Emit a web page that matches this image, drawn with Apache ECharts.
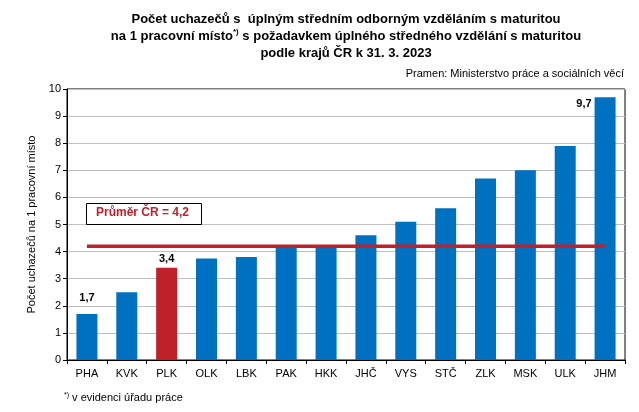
<!DOCTYPE html>
<html><head><meta charset="utf-8">
<script src="https://cdn.jsdelivr.net/npm/echarts@6/dist/echarts.min.js"></script>
<style>html,body{margin:0;padding:0;background:#fff}#c{width:639px;height:412px}</style>
</head><body><div id="c"></div>
<script>
var categories = ['PHA','KVK','PLK','OLK','LBK','PAK','HKK','JHČ','VYS','STČ','ZLK','MSK','ULK','JHM'];
var values = [1.7, 2.5, 3.4, 3.75, 3.8, 4.2, 4.2, 4.6, 5.1, 5.6, 6.7, 7.0, 7.9, 9.7];
var average = 4.2;
var highlighted = ['PLK'];
var labelled = ['PHA','PLK','JHM'];
var yTicks = [0,1,2,3,4,5,6,7,8,9,10];

var FONT = 'Liberation Sans, Arial, sans-serif';
function fmt(v){ return v.toFixed(1).replace('.', ','); }

var labelDistance = { PHA: 10, PLK: 3 };

var barData = values.map(function(v, i){
  var c = categories[i];
  var item = { value: v, itemStyle: { color: highlighted.indexOf(c) >= 0 ? '#c0202a' : '#0070c0' } };
  if (labelled.indexOf(c) >= 0) {
    item.label = { show: true, formatter: function(p){ return fmt(p.value); }, fontWeight: 'bold', fontSize: 11, color: '#000', fontFamily: FONT };
    if (i === categories.length - 1) {
      item.label.position = [-3, 7];
      item.label.align = 'right';
      item.label.verticalAlign = 'middle';
    } else {
      item.label.position = 'top';
      item.label.distance = labelDistance[c];
    }
  }
  return item;
});

var chart = echarts.init(document.getElementById('c'), null, {renderer: 'canvas'});
chart.setOption({
  animation: false,
  backgroundColor: '#fff',
  textStyle: { fontFamily: FONT },
  title: {
    text: '{t|Počet uchazečů s  úplným středním odborným vzděláním s maturitou}\n{t|na 1 pracovní místo}{s|*)}{t| s požadavkem úplného středného vzdělání s maturitou}\n{t|podle krajů ČR k 31. 3. 2023}',
    left: 341, top: 6, textAlign: 'center',
    textStyle: {
      rich: {
        t: { fontSize: 13, fontWeight: 'bold', fontFamily: FONT, color: '#000', lineHeight: 17 },
        s: { fontSize: 8, fontWeight: 'bold', fontFamily: FONT, color: '#000', verticalAlign: 'top', lineHeight: 17, padding: [0,0,6,0] }
      }
    }
  },
  grid: { left: 67, right: 14, top: 89, bottom: 52, show: true, borderColor: '#000', borderWidth: 1, containLabel: false },
  xAxis: {
    type: 'category', data: categories,
    axisLine: { lineStyle: { color: '#000', width: 1 } },
    axisTick: { show: true, alignWithLabel: false, length: 4, lineStyle: { color: '#000' } },
    axisLabel: { fontSize: 11, color: '#000', margin: 8, fontFamily: FONT }
  },
  yAxis: {
    type: 'value', min: 0, max: 10, interval: 1,
    name: 'Počet uchazečů na 1 pracovní místo', nameLocation: 'middle', nameGap: 28,
    nameTextStyle: { fontSize: 11, color: '#000', fontFamily: FONT },
    axisLine: { show: true, lineStyle: { color: '#000' } },
    axisTick: { show: true, length: 4, lineStyle: { color: '#000' } },
    axisLabel: { fontSize: 11, color: '#000', margin: 6, fontFamily: FONT, formatter: function(v){ return yTicks.indexOf(v) >= 0 ? String(v) : ''; } },
    splitLine: { show: true, lineStyle: { color: '#bfbfbf', width: 1 } }
  },
  series: [
    { type: 'bar', data: barData, barWidth: 21, z: 2 },
    { type: 'line', data: categories.map(function(){ return average; }), symbol: 'none',
      lineStyle: { color: '#c0202a', width: 3.5 }, z: 3, silent: true }
  ],
  graphic: [
    { type: 'rect', left: 86, top: 203, shape: { width: 115, height: 21 }, style: { fill: '#fff', stroke: '#000', lineWidth: 1 }, z: 10 },
    { type: 'text', left: 96, top: 207, style: { text: 'Průměr ČR = ' + fmt(average), font: 'bold 12px ' + FONT, fill: '#c0202a' }, z: 11 },
    { type: 'text', right: 15, top: 68, style: { text: 'Pramen: Ministerstvo práce a sociálních věcí', font: '11px ' + FONT, fill: '#000' } },
    { type: 'text', left: 64, top: 392, style: { text: '{s|*)}{t| v evidenci úřadu práce}', rich: { s: { fontSize: 7, fontFamily: FONT, fill: '#000', verticalAlign: 'top', padding:[0,0,5,0] }, t: { fontSize: 11, fontFamily: FONT, fill: '#000' } } } }
  ]
});
</script></body></html>
